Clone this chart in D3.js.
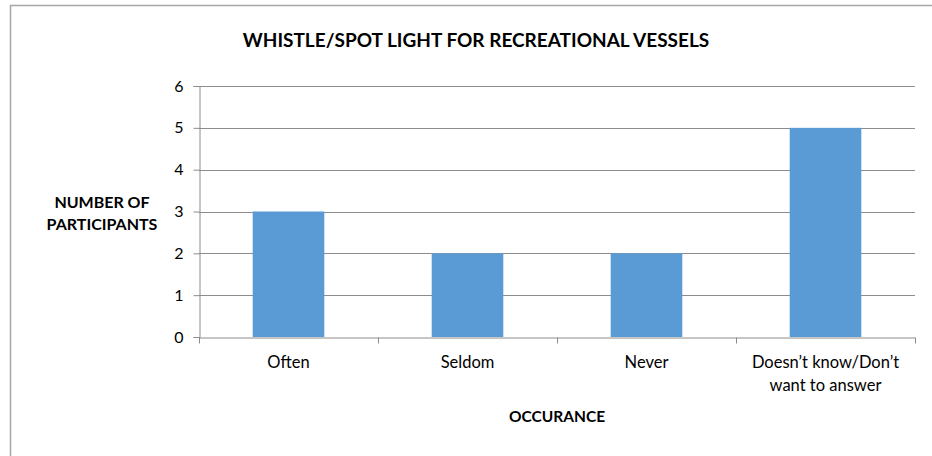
<!DOCTYPE html>
<html>
<head>
<meta charset="utf-8">
<script src="https://cdn.jsdelivr.net/npm/d3@7"></script>
<style>
  body { margin: 0; background: #fff; }
  text { font-family: Lato, "Open Sans", sans-serif; fill: #000; }
</style>
</head>
<body>
<div id="chart"></div>
<script>
// chart data
var categories = ["Often", "Seldom", "Never", "Doesn\u2019t know/Don\u2019t want to answer"];
var values = [3, 2, 2, 5];
var yTicks = [0, 1, 2, 3, 4, 5, 6];
var chartTitle = "WHISTLE/SPOT LIGHT FOR RECREATIONAL VESSELS";
var xTitle = "OCCURANCE";
var yTitle = ["NUMBER OF", "PARTICIPANTS"];

var svgWidth = 932;
var svgHeight = 456;

let chartMargin = { top: 86, right: 17, bottom: 119, left: 199 };
let width = svgWidth - chartMargin.left - chartMargin.right;
let height = svgHeight - chartMargin.top - chartMargin.bottom;

let svg = d3.select("#chart")
  .append("svg")
  .attr("width", svgWidth)
  .attr("height", svgHeight);

// outer frame
svg.append("rect")
  .attr("x", 10.5).attr("y", 5.5)
  .attr("width", 940).attr("height", 470)
  .attr("fill", "none")
  .attr("stroke", "#a6a6a6")
  .attr("stroke-width", 1.5);

let chartGroup = svg.append("g")
  .attr("transform", `translate(${chartMargin.left}, ${chartMargin.top})`);

let xScale = d3.scaleBand()
  .domain(categories)
  .range([0, width])
  .paddingInner(0.6)
  .paddingOuter(0.3);

let yScale = d3.scaleLinear()
  .domain([0, 6])
  .range([height, 0]);

// gridlines
chartGroup.append("g")
  .selectAll("line")
  .data(yTicks.filter(d => d > 0))
  .enter()
  .append("line")
  .attr("x1", 0).attr("x2", width)
  .attr("y1", d => Math.round(yScale(d)) + 0.5)
  .attr("y2", d => Math.round(yScale(d)) + 0.5)
  .attr("stroke", "#8c8c8c");

// bars
chartGroup.selectAll("rect.bar")
  .data(values)
  .enter()
  .append("rect")
  .attr("class", "bar")
  .attr("x", (d, i) => xScale(categories[i]))
  .attr("y", d => yScale(d))
  .attr("width", xScale.bandwidth())
  .attr("height", d => height - yScale(d))
  .attr("fill", "#5b9bd5");

// y axis
let yAxis = d3.axisLeft(yScale).tickValues(yTicks).tickFormat(d3.format("d")).tickSize(6).tickPadding(10);
let yG = chartGroup.append("g").attr("transform", "translate(0.5,0)").call(yAxis);
yG.select(".domain").attr("stroke", "#8c8c8c");
yG.selectAll(".tick line").attr("stroke", "#8c8c8c");
yG.selectAll(".tick text").style("font-size", "16px").attr("font-family", null);

// x axis
let xAxis = d3.axisBottom(xScale).tickSize(0).tickSizeOuter(0).tickFormat("");
let xG = chartGroup.append("g")
  .attr("transform", `translate(0, ${Math.round(height) + 0.5})`)
  .call(xAxis);
xG.select(".domain").attr("stroke", "#8c8c8c");

// x ticks at band boundaries
let step = xScale.step();
xG.selectAll("line.sep")
  .data(d3.range(categories.length + 1))
  .enter()
  .append("line")
  .attr("x1", i => Math.round(i * step) + 0.5)
  .attr("x2", i => Math.round(i * step) + 0.5)
  .attr("y1", 0).attr("y2", 6)
  .attr("stroke", "#8c8c8c");

// category labels (wrapped)
let labelLines = [["Often"], ["Seldom"], ["Never"], ["Doesn\u2019t know/Don\u2019t", "want to answer"]];
categories.forEach(function(c, i) {
  let t = chartGroup.append("text")
    .attr("text-anchor", "middle")
    .style("font-size", "16.5px")
    .attr("x", xScale(c) + xScale.bandwidth() / 2)
    .attr("y", height + 31);
  labelLines[i].forEach(function(line, j) {
    t.append("tspan")
      .attr("x", xScale(c) + xScale.bandwidth() / 2)
      .attr("dy", j === 0 ? 0 : 23)
      .text(line);
  });
});

// title
svg.append("text")
  .attr("x", 476)
  .attr("y", 47)
  .attr("text-anchor", "middle")
  .style("font-size", "19px")
  .style("font-weight", "bold")
  .text(chartTitle);

// x axis title
chartGroup.append("text")
  .attr("x", 557 - chartMargin.left)
  .attr("y", height + 85)
  .attr("text-anchor", "middle")
  .style("font-size", "15.5px")
  .style("font-weight", "bold")
  .text(xTitle);

// y axis title
let yt = svg.append("text")
  .attr("text-anchor", "middle")
  .style("font-size", "16px")
  .style("font-weight", "bold");
yTitle.forEach(function(line, j) {
  yt.append("tspan")
    .attr("x", 102)
    .attr("y", 208 + j * 22)
    .text(line);
});
</script>
</body>
</html>
